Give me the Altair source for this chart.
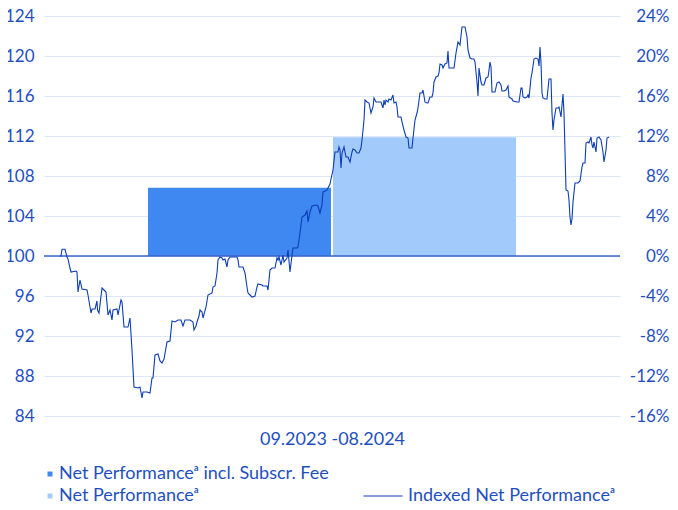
import altair as alt
import pandas as pd

# ---------------- data ----------------
SERIES_INCL = "Net Performanceᵃ incl. Subscr. Fee"
SERIES_NET = "Net Performanceᵃ"
SERIES_LINE = "Indexed Net Performanceᵃ"

bar_series = [SERIES_INCL, SERIES_NET]
bar_values = [0.0683, 0.1187]

# sample positions along the period 09.2023 - 08.2024 (0 = start, 549 = end)
t_pos = [
    0, 1, 2, 5, 7, 8, 10, 11, 16, 17, 18, 20, 22, 27, 28, 31, 32, 35, 37, 37.5,
    39, 42, 44, 46, 48, 50, 52, 53, 57, 58, 61, 62, 64, 68, 70, 72, 74, 78, 80, 82,
    83, 87, 90, 92, 93, 95, 98, 100, 102, 104, 107, 110, 112, 115, 118, 121, 123, 125, 130, 133,
    134,
    136, 137, 139, 140, 142, 143, 146, 148, 152, 153, 155, 157, 158, 160, 162, 163, 165, 167, 168, 170,
    177, 178, 179, 183, 185, 187, 188, 192, 195, 197, 198, 202, 203, 207, 208, 210, 212, 215, 217, 218,
    219, 221, 223, 224, 227, 228, 230, 232, 233, 237, 238, 240, 242, 245, 247, 248, 250, 252, 256, 258,
    260, 262, 263, 267, 268, 270, 271,
    273, 275, 278, 279, 280, 281, 282, 284, 286, 288, 290, 292, 293, 295, 297, 299, 301, 302, 304, 305,
    307, 309, 311, 313, 314, 316, 318, 321, 323, 324, 325, 326, 328, 329, 331, 333, 334, 336, 337, 338,
    341, 342, 344, 346, 348, 349, 352, 353, 355, 357, 358, 360, 362, 363, 365, 367, 368, 370, 372, 373,
    374, 376, 378, 379, 380, 382, 383, 385, 387, 388, 389, 392, 394, 396, 398, 400,
    402, 405, 407, 408, 410, 412, 414, 415, 417, 418, 419, 421, 422, 424, 426, 428, 429, 430, 431, 432,
    435, 437, 439, 441, 442, 444, 446, 448, 449, 452, 453, 457, 459, 461, 462, 463, 465, 467, 468, 469,
    471, 472, 474, 476, 478, 479, 480, 481, 482, 483, 485, 487, 489, 491, 492, 493, 494, 496, 498, 499,
    501, 502, 503, 504, 506, 508, 509, 510, 511, 512, 513, 515, 517, 518, 520, 522, 523, 525, 526, 528,
    529, 531, 532, 533, 534, 535, 536, 537, 539, 541, 543, 544, 546, 547, 549,
]

index_values = [
    100.0, 100.0, 100.67, 100.67, 99.9, 99.7, 98.8, 98.4, 98.5, 98.4, 96.4, 97.6, 96.7, 96.6, 96.1, 94.3, 94.7, 94.7, 95.5, 94.6,
    94.3, 96.8, 96.6, 96.4, 94.1, 94.6, 93.6, 94.6, 94.7, 94.1, 95.6, 95.4, 92.9, 92.9, 93.8, 90.6, 86.9, 86.8, 86.9, 85.8,
    86.4, 86.4, 86.3, 87.8, 87.8, 90.1, 90.2, 89.5, 89.3, 89.7, 91.4, 91.5, 93.5, 93.4, 93.6, 93.6, 93.0, 93.6, 93.6, 93.4,
    92.6,
    93.0, 93.4, 94.0, 94.6, 94.4, 93.8, 94.9, 96.1, 96.3, 96.9, 97.0, 98.3, 99.6, 99.9, 99.8, 99.6, 99.7, 98.9, 99.6, 99.9,
    99.9, 99.6, 98.9, 98.9, 98.3, 96.9, 96.3, 95.9, 96.0, 96.9, 97.2, 97.1, 97.0, 97.0, 96.6, 98.6, 98.8, 98.8, 99.8, 99.6,
    99.9, 99.1, 100.1, 99.4, 99.8, 100.6, 98.4, 100.1, 100.8, 100.8, 100.9, 102.3, 103.9, 104.1, 104.5, 103.4, 104.4, 105.0, 105.1, 105.0,
    104.3, 105.1, 106.4, 106.6, 106.8, 107.2, 107.7,
    108.6, 110.4, 110.4, 110.9, 110.6, 108.8, 110.3, 110.9, 109.9, 109.9, 109.4, 110.4, 110.7, 110.6, 110.3, 110.3, 110.8, 111.6, 113.6, 115.6,
    115.4, 115.3, 114.3, 114.9, 115.8, 115.4, 115.4, 115.4, 114.8, 115.6, 115.1, 115.6, 115.4, 115.7, 115.6, 116.1, 115.3, 115.4, 114.9, 113.9,
    113.9, 113.4, 112.6, 111.9, 111.8, 110.8, 110.8, 111.8, 113.6, 114.3, 114.8, 116.3, 116.3, 116.6, 115.4, 115.3, 115.3, 115.9, 115.9, 116.3,
    117.4, 117.9, 118.0, 118.3, 119.2, 119.1, 118.8, 119.2, 119.3, 120.5, 118.8, 118.8, 118.8, 120.3, 121.4, 121.1,
    122.9, 122.9, 121.9, 120.6, 119.8, 119.7, 119.7, 119.4, 117.4, 116.0, 118.8, 117.4, 117.1, 117.1, 117.8, 117.9, 118.6, 119.4, 118.9, 116.4,
    116.4, 117.3, 117.4, 117.1, 116.5, 116.5, 116.6, 117.0, 115.9, 115.7, 115.5, 115.4, 115.4, 116.8, 116.8, 115.9, 115.8, 115.9, 116.1, 115.8,
    117.8, 118.3, 119.7, 119.8, 119.7, 119.0, 120.9, 119.3, 116.3, 115.8, 115.7, 115.7, 117.7, 117.7, 114.3, 112.6, 113.6, 114.8, 114.8, 114.9,
    113.9, 115.1, 116.2, 114.3, 106.6, 106.5, 105.6, 103.9, 103.1, 103.7, 105.4, 107.3, 107.3, 107.3, 107.5, 108.9, 109.3, 109.3, 111.3, 111.4,
    111.3, 111.9, 111.1, 110.8, 111.4, 110.9, 110.4, 111.8, 111.9, 111.6, 110.4, 109.4, 110.6, 111.8, 111.9,
]

left_ticks = [84, 88, 92, 96, 100, 104, 108, 112, 116, 120, 124]
right_ticks = [-0.16, -0.12, -0.08, -0.04, 0.0, 0.04, 0.08, 0.12, 0.16, 0.20, 0.24]
x_title = "09.2023 -08.2024"

assert len(t_pos) == len(index_values), (len(t_pos), len(index_values))

# ---------------- style ----------------
FONT = "Lato"
TEXT = "#1f4fbf"
LINE = "#0c3db5"
DARK = "#3f88f2"
LIGHT = "#a2cafb"
GRID = "#dce8fa"
BASE = "#3d64c8"
FS = 17
LFS = 18

bars_df = pd.DataFrame({"series": bar_series, "perf": bar_values})
zero_df = pd.DataFrame({"perf": [0.0]})
line_df = pd.DataFrame({
    "t": t_pos,
    "value": index_values,
    "order": list(range(len(t_pos))),
    "name": [SERIES_LINE] * len(t_pos),
})

right_y = alt.Y(
    "perf:Q",
    scale=alt.Scale(domain=[right_ticks[0], right_ticks[-1]], nice=False, zero=False),
    axis=alt.Axis(
        orient="right", values=right_ticks, grid=False, domain=False, ticks=False,
        labelAlign="right", labelPadding=49, labelFontSize=FS, labelFont=FONT,
        labelColor=TEXT, labelExpr="round(datum.value * 100) + '%'", title=None,
    ),
)

bars = alt.Chart(bars_df).mark_bar().encode(
    x=alt.X(
        "series:N", sort=bar_series,
        scale=alt.Scale(domain=bar_series, paddingInner=0.011, paddingOuter=0.562),
        axis=alt.Axis(
            title=x_title, labels=False, ticks=False, domain=False, grid=False,
            titleFont=FONT, titleFontSize=LFS, titleColor=TEXT,
            titleFontWeight="normal", titlePadding=14,
        ),
    ),
    y=right_y,
    color=alt.Color(
        "series:N",
        scale=alt.Scale(domain=bar_series, range=[DARK, LIGHT]),
        legend=alt.Legend(
            orient="none", legendX=-3, legendY=449, title=None,
            symbolType="square", symbolSize=25, symbolStrokeWidth=0,
            labelFont=FONT, labelFontSize=LFS, labelColor=TEXT, labelLimit=0,
            direction="vertical", rowPadding=4, labelOffset=0, padding=0,
        ),
    ),
)

zero_rule = alt.Chart(zero_df).mark_rule(color=BASE, strokeWidth=1.5).encode(y=right_y)

bar_layer = alt.layer(bars, zero_rule)

line = alt.Chart(line_df).mark_line(strokeWidth=1.1).encode(
    x=alt.X(
        "t:Q", scale=alt.Scale(domain=[-16, 560], nice=False, zero=False),
        axis=alt.Axis(grid=False, labels=False, ticks=False, domain=False, title=None),
    ),
    y=alt.Y(
        "value:Q",
        scale=alt.Scale(domain=[84, 124], nice=False, zero=False),
        axis=alt.Axis(
            orient="left", values=left_ticks, grid=True, gridColor=GRID, gridWidth=1,
            domain=False, ticks=False, labelPadding=10, labelFontSize=FS,
            labelFont=FONT, labelColor=TEXT, title=None,
        ),
    ),
    order=alt.Order("order:Q"),
    stroke=alt.Stroke(
        "name:N",
        scale=alt.Scale(domain=[SERIES_LINE], range=[LINE]),
        legend=alt.Legend(
            orient="none", legendX=319, legendY=460, title=None,
            symbolType="stroke", symbolSize=1521, symbolStrokeWidth=1,
            labelFont=FONT, labelFontSize=LFS, labelColor=TEXT, labelLimit=0,
            labelOffset=5, padding=0,
        ),
    ),
)

chart = (
    alt.layer(bar_layer, line)
    .resolve_scale(x="independent", y="independent")
    .properties(
        width=576, height=400,
        padding={"left": 36, "top": 8, "right": 50, "bottom": 86},
        autosize=alt.AutoSizeParams(type="none"),
        view=alt.ViewBackground(strokeWidth=0, stroke="transparent"),
    )
    .configure_view(strokeWidth=0, stroke="transparent")
    .configure_axis(domain=False, ticks=False, domainColor="transparent")
    .configure_axisX(grid=False)
    .configure(background="white")
)

chart.save("out.html", embed_options={"renderer": "svg", "actions": False})
